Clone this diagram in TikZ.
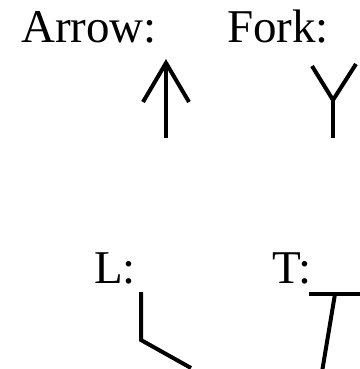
\documentclass[tikz,border=0pt]{standalone}
\usepackage{fontspec}
\setmainfont{Liberation Serif}
\begin{document}
\begin{tikzpicture}[x=1pt,y=-1pt,
  lbl/.style={anchor=base west,inner sep=0pt,font=\fontsize{47}{52}\selectfont},
  stroke/.style={line width=4pt,line cap=butt,line join=miter}]
\useasboundingbox (0,0) rectangle (359,369);
\node[lbl] (arrowlbl) at (21,43) {Arrow:};
\node[lbl] (forklbl) at (227,43) {Fork:};
\node[lbl] (llbl) at (94,283) {L:};
\node[lbl] (tlbl) at (272,283) {T:};
% arrow
\coordinate (atip) at (166,63);
\coordinate (abot) at (166,138);
\coordinate (awl) at (143,102);
\coordinate (awr) at (189,102);
\draw[stroke] (abot) -- (atip);
\draw[stroke] (awl) -- (atip) -- (awr);
% fork
\coordinate (fj) at (333,100);
\coordinate (fl) at (312,66);
\coordinate (fr) at (356,64);
\coordinate (fb) at (333,138);
\draw[stroke] (fl) -- (fj) -- (fr);
\draw[stroke] (fj) -- (fb);
% L
\coordinate (lt) at (141,292);
\coordinate (lc) at (141,340);
\coordinate (le) at (191,368);
\draw[stroke] (lt) -- (lc) -- (le);
% T
\coordinate (tbl) at (309,294);
\coordinate (tbr) at (362,294);
\coordinate (ts) at (335,294);
\coordinate (te) at (322,372);
\draw[stroke] (tbl) -- (tbr);
\draw[stroke] (ts) -- (te);
\end{tikzpicture}
\end{document}
